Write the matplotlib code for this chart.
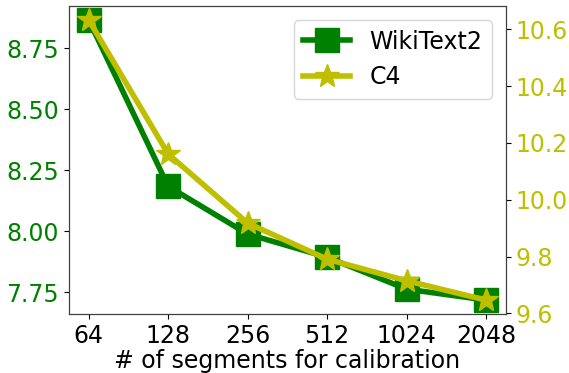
import matplotlib
matplotlib.use("Agg")
import matplotlib.pyplot as plt

segments = ["64", "128", "256", "512", "1024", "2048"]
wikitext2_ppl = [8.867, 8.184, 7.988, 7.893, 7.762, 7.717]
c4_ppl = [10.633, 10.161, 9.918, 9.791, 9.715, 9.647]

fig = plt.figure(figsize=(5.69, 3.73), dpi=100)
ax = fig.add_axes([0.121, 0.158, 0.768, 0.826])
ax2 = ax.twinx()

x = list(range(len(segments)))
l1, = ax.plot(x, wikitext2_ppl, color="g", marker="s", markersize=17,
              linewidth=4, label="WikiText2")
l2, = ax2.plot(x, c4_ppl, color="y", marker="*", markersize=18,
               linewidth=4, label="C4")

ax.set_xticks(x)
ax.set_xticklabels(segments)
ax.set_xlabel("# of segments for calibration", fontsize=17, labelpad=1)
ax.tick_params(axis="x", labelsize=17)
ax.tick_params(axis="y", labelsize=17, labelcolor="g")
ax2.tick_params(axis="y", labelsize=17, labelcolor="y")
ax.set_yticks([7.75, 8.00, 8.25, 8.50, 8.75])
ax.set_yticklabels(["7.75", "8.00", "8.25", "8.50", "8.75"])
ax2.set_yticks([9.6, 9.8, 10.0, 10.2, 10.4, 10.6])
ax2.set_yticklabels(["9.6", "9.8", "10.0", "10.2", "10.4", "10.6"])

for sp in ax2.spines.values():
    sp.set_color("#404040")

ax2.legend([l1, l2], ["WikiText2", "C4"], loc="upper right", fontsize=17,
           borderaxespad=0.6)

fig.savefig("out.png", dpi=100)
